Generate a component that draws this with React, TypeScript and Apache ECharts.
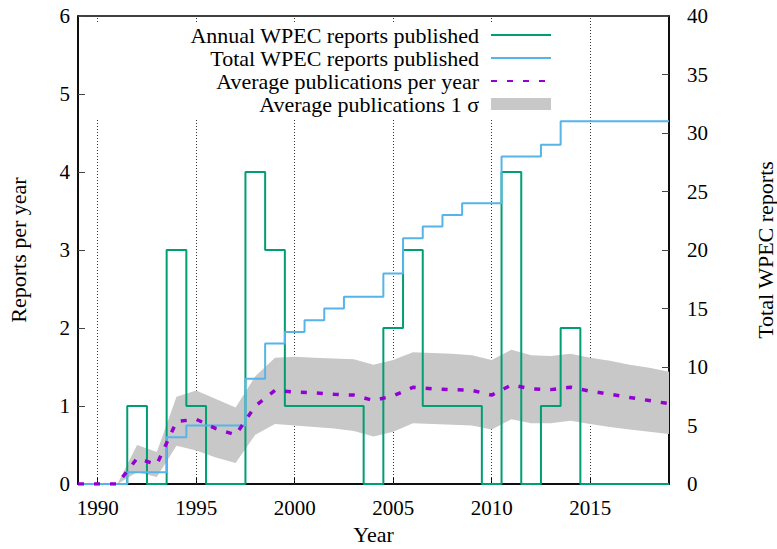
import React, { useEffect, useRef } from "react";
import * as echarts from "echarts";

const years = [
  1989, 1990, 1991, 1992, 1993, 1994, 1995, 1996, 1997, 1998, 1999, 2000, 2001, 2002, 2003, 2004,
  2005, 2006, 2007, 2008, 2009, 2010, 2011, 2012, 2013, 2014, 2015, 2016, 2017, 2018, 2019,
];
const annual = [0, 0, 0, 1, 0, 3, 1, 0, 0, 4, 3, 1, 1, 1, 1, 0, 2, 3, 1, 1, 1, 0, 4, 0, 1, 2, 0, 0, 0, 0, 0];
const total = [0, 0, 0, 1, 1, 4, 5, 5, 5, 9, 12, 13, 14, 15, 16, 16, 18, 21, 22, 23, 24, 24, 28, 28, 29, 31, 31, 31, 31, 31, 31];
const average = [
  0, 0, 0, 0.33, 0.25, 0.8, 0.83, 0.71, 0.63, 1.0, 1.2, 1.18, 1.17, 1.15, 1.14, 1.07,
  1.13, 1.24, 1.22, 1.21, 1.2, 1.14, 1.27, 1.22, 1.21, 1.24, 1.19, 1.15, 1.11, 1.07, 1.03,
];
const sigmaUpper = [
  0, 0, 0, 0.5, 0.41, 1.12, 1.2, 1.09, 0.98, 1.38, 1.62, 1.63, 1.62, 1.61, 1.6, 1.53,
  1.59, 1.69, 1.68, 1.67, 1.65, 1.59, 1.72, 1.65, 1.64, 1.67, 1.62, 1.58, 1.53, 1.49, 1.44,
];
const sigmaLower = [
  0, 0, 0, 0.15, 0.09, 0.49, 0.43, 0.34, 0.27, 0.63, 0.77, 0.75, 0.73, 0.71, 0.68, 0.61,
  0.67, 0.78, 0.77, 0.76, 0.75, 0.7, 0.83, 0.78, 0.78, 0.81, 0.77, 0.73, 0.7, 0.67, 0.64,
];
const xTickYears = [1990, 1995, 2000, 2005, 2010, 2015];

const NAME_ANNUAL = "Annual WPEC reports published";
const NAME_TOTAL = "Total WPEC reports published";
const NAME_AVG = "Average publications per year";
const NAME_SIGMA = "Average publications 1 σ";

const FONT = "Times New Roman";

export default function App() {
  const ref = useRef<HTMLDivElement>(null);

  useEffect(() => {
    document.body.style.margin = "0";
    const chart = echarts.init(ref.current!, null, { renderer: "svg" });
    const pair = (arr: number[]) => years.map((y, i) => [y, arr[i]]);
    const tickText = { fontFamily: FONT, fontSize: 21, color: "#000" };
    const nameText = { fontFamily: FONT, fontSize: 22, color: "#000", lineHeight: 20 };

    chart.setOption({
      animation: false,
      backgroundColor: "#fff",
      textStyle: { fontFamily: FONT, color: "#000" },
      grid: {
        left: 78,
        right: 108,
        top: 16,
        bottom: 65,
        outerBoundsMode: "none",
        containLabel: false,
        show: true,
        borderColor: "#000",
        borderWidth: 1.5,
        backgroundColor: "transparent",
      },
      legend: {
        orient: "vertical",
        align: "right",
        right: 217,
        top: 22,
        padding: [2, 8, 3, 100],
        backgroundColor: "#fff",
        itemWidth: 60,
        itemHeight: 12,
        itemGap: 1,
        selectedMode: false,
        textStyle: { fontFamily: FONT, fontSize: 22, lineHeight: 21, color: "#000", padding: [0, 7, 0, 0] },
        data: [
          { name: NAME_ANNUAL, itemStyle: { opacity: 0 } },
          { name: NAME_TOTAL, itemStyle: { opacity: 0 } },
          { name: NAME_AVG, itemStyle: { opacity: 0 } },
          { name: NAME_SIGMA, icon: "rect", itemStyle: { color: "#c8c8c8" } },
        ],
      },
      xAxis: {
        type: "value",
        min: 1989,
        max: 2019,
        name: "Year",
        nameLocation: "middle",
        nameGap: 40,
        nameTextStyle: nameText,
        axisLine: { show: true, lineStyle: { color: "#000", width: 1.5 } },
        axisTick: { show: true, inside: true, length: 7, customValues: xTickYears, lineStyle: { color: "#000" } },
        axisLabel: {
          ...tickText,
          customValues: xTickYears,
          margin: 13,
          formatter: (v: number) => String(v),
        },
        splitLine: { show: false },
      },
      yAxis: [
        {
          type: "value",
          min: 0,
          max: 6,
          interval: 1,
          position: "left",
          name: "Reports per year",
          nameLocation: "middle",
          nameGap: 50,
          nameRotate: 90,
          nameTextStyle: nameText,
          axisLine: { show: true, lineStyle: { color: "#000", width: 1.5 } },
          axisTick: { show: true, inside: true, length: 7, lineStyle: { color: "#444" } },
          axisLabel: { ...tickText, margin: 8 },
          splitLine: { show: false },
        },
        {
          type: "value",
          min: 0,
          max: 40,
          interval: 5,
          position: "right",
          name: "Total WPEC reports",
          nameLocation: "middle",
          nameGap: 86,
          nameRotate: 90,
          nameTextStyle: nameText,
          axisLine: { show: true, lineStyle: { color: "#000", width: 1.5 } },
          axisTick: { show: true, inside: true, length: 7, lineStyle: { color: "#444" } },
          axisLabel: { ...tickText, margin: 18 },
          splitLine: { show: false },
        },
      ],
      series: [
        {
          name: NAME_SIGMA,
          type: "custom",
          xAxisIndex: 0,
          yAxisIndex: 0,
          z: 2,
          silent: true,
          color: "#c8c8c8",
          data: [[years[0], sigmaLower[0]]],
          renderItem: (params: any, api: any) => {
            if (params.dataIndex !== 0) return null;
            const up = years.map((y, i) => api.coord([y, sigmaUpper[i]]));
            const lo = years.map((y, i) => api.coord([y, sigmaLower[i]])).reverse();
            return {
              type: "polygon",
              shape: { points: up.concat(lo) },
              style: { fill: "#c8c8c8", stroke: "none" },
            };
          },
          markLine: {
            silent: true,
            z: 1,
            symbol: ["none", "none"],
            label: { show: false },
            lineStyle: { color: "#333", type: [1, 2], width: 1 },
            data: xTickYears.map((v) => ({ xAxis: v })),
          },
        },
        {
          name: NAME_ANNUAL,
          type: "line",
          yAxisIndex: 0,
          step: "middle",
          data: pair(annual),
          symbol: "none",
          z: 3,
          color: "#009e73",
          lineStyle: { color: "#009e73", width: 2 },
        },
        {
          name: NAME_TOTAL,
          type: "line",
          yAxisIndex: 1,
          step: "middle",
          data: pair(total),
          symbol: "none",
          z: 3,
          color: "#56b4e9",
          lineStyle: { color: "#56b4e9", width: 2 },
        },
        {
          name: NAME_AVG,
          type: "line",
          yAxisIndex: 0,
          data: pair(average),
          symbol: "none",
          z: 3,
          color: "#9400d3",
          lineStyle: { color: "#9400d3", width: 3.5, type: [6, 10] },
        },
      ],
    });

    return () => chart.dispose();
  }, []);

  return <div ref={ref} style={{ width: 777, height: 549 }} />;
}
